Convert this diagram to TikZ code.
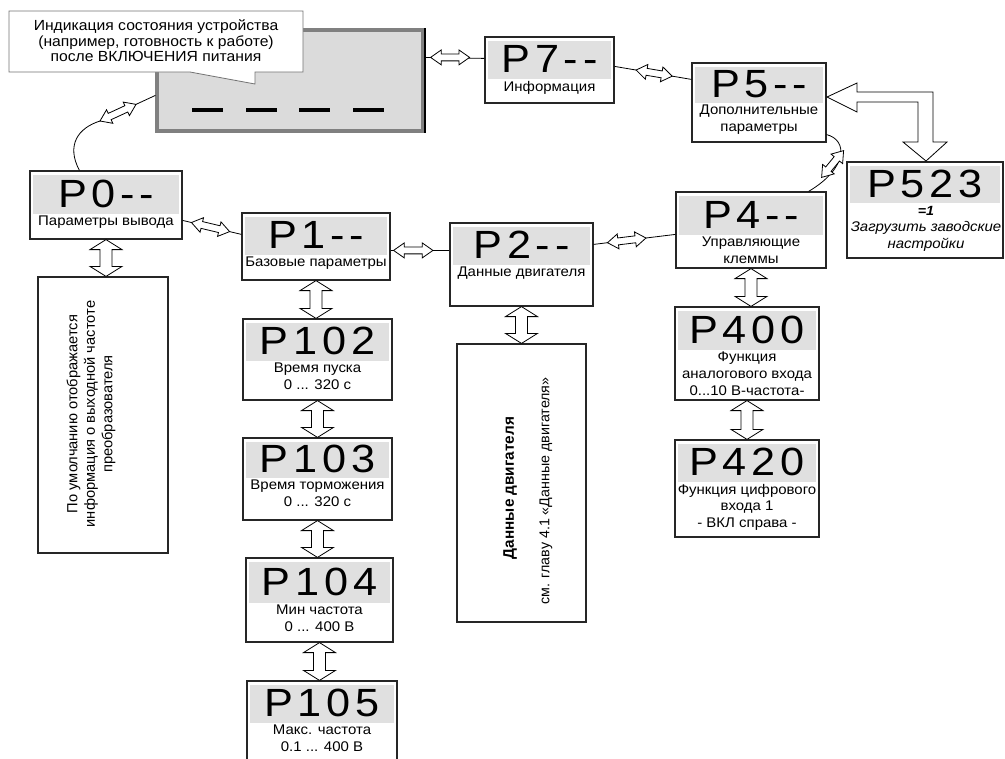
\documentclass[tikz,border=0pt]{standalone}
\usepackage{fontspec}
\setmainfont[FakeStretch=1.07]{Liberation Sans}
\newfontfamily\bigf[FakeStretch=1.1,LetterSpace=12]{Liberation Sans}
\newfontfamily\plainf{Liberation Sans}
\usetikzlibrary{calc}

\tikzset{
  pbox/.style={draw=black!85, line width=0.9pt, fill=white, rectangle, inner sep=0pt},
  band/.style={fill=black!12},
  bigt/.style={font=\bigf\fontsize{29.5}{30}\selectfont, inner sep=0pt},
  smallt/.style={font=\fontsize{10.5}{12.4}\selectfont, align=center, inner sep=0pt},
  arr/.style={draw=black, fill=white, line width=0.6pt, line join=miter},
  conn/.style={draw=black, line width=0.6pt},
  disp/.style={draw=black!50, line width=2.4pt, fill=black!14, rectangle, inner sep=0pt},
  callout/.style={draw=black!55, line width=0.6pt, fill=white},
}

% hollow double arrow between two points: from, to, shaft half, head half, head length (pt)
\newcommand\dblarrow[5]{%
  \path let \p1=#1, \p2=#2 in \pgfextra{%
    \pgfmathsetmacro\tmpang{atan2(\y2-\y1,\x2-\x1)}\xdef\daang{\tmpang}%
    \pgfmathsetmacro\tmplen{veclen(\x2-\x1,\y2-\y1)}\xdef\dalen{\tmplen}%
    \xdef\dax{\x1}\xdef\day{\y1}};
  \begin{scope}[shift={(\dax,\day)},rotate=\daang,x=1pt,y=1pt]
    \filldraw[arr] (0,0) -- (#5,#4) -- (#5,#3) -- ({\dalen-#5},#3) -- ({\dalen-#5},#4)
      -- (\dalen,0) -- ({\dalen-#5},-#4) -- ({\dalen-#5},-#3) -- (#5,-#3) -- (#5,-#4) -- cycle;
  \end{scope}}
\newcommand\sarr[2]{\dblarrow{#1}{#2}{2.6}{5.6}{8}}
\newcommand\varr[2]{\dblarrow{#1}{#2}{4.5}{12}{7.5}}

% parameter box: name, x1, y1, x2, y2, band bottom, big text, small text
\newcommand\pbox[8]{%
  \node[pbox, minimum width={(#4-#2)*0.75pt}, minimum height={(#5-#3)*0.75pt}] (#1) at ({(#2+#4)/2},{(#3+#5)/2}) {};
  \fill[band] ({#2+3},{#3+4}) rectangle ({#4-3},#6);
  \node[bigt] (#1-big) at ({(#2+#4)/2},{(#3+#6)/2+1}) {#7};
  \node[smallt, anchor=north] (#1-txt) at ({(#2+#4)/2},{#6+2}) {#8};
}

\begin{document}
\begin{tikzpicture}[x=0.75pt,y=-0.75pt]
\useasboundingbox (0,0) rectangle (1005,758);

% display
\node[disp, minimum width={266*0.75pt}, minimum height={101*0.75pt}] (D) at (290,80.5) {};
\draw[line width=1.6pt] (D.north east) -- (D.south east);
\foreach \a in {192,246,299,353} \draw[line width=3.2pt] (\a,110) -- (\a+31,110);

% callout
\draw[callout] (9,11) -- (303,11) -- (303,72) -- (255,72) -- (255,84) -- (190,72) -- (9,72) -- cycle;
\node[font=\fontsize{11}{11.6}\selectfont, align=center, inner sep=0pt] (CT) at (156,41)
  {Индикация состояния устройства\\(например, готовность к работе)\\после ВКЛЮЧЕНИЯ питания};

% parameter boxes
\pbox{P7}{485}{37}{614}{103}{79}{P7--}{Информация}
\pbox{P5}{692}{63}{826}{142}{103}{P5--}{Дополнительные\\параметры}
\pbox{P523}{847}{162}{1003}{258}{203}{P523}{}
\node[font=\bfseries\itshape\fontsize{10}{11}\selectfont, inner sep=0pt] (P523a) at (926,211) {=1};
\node[font=\itshape\fontsize{10.5}{12.75}\selectfont, align=center, inner sep=0pt] (P523b) at (926,236.5) {Загрузить заводские\\настройки};
\pbox{P4}{676}{192}{826}{268}{235}{P4--}{Управляющие\\клеммы}
\pbox{P2}{450}{223}{593}{306}{265}{P2--}{Данные двигателя}
\pbox{P1}{242}{213}{390}{280}{255}{P1--}{Базовые параметры}
\pbox{P0}{30}{171}{182}{239}{214}{P0--}{Параметры вывода}
\pbox{P102}{243}{319}{392}{400}{361}{P102}{Время пуска\\0 ... 320 с}
\pbox{P103}{243}{438}{392}{520}{478}{P103}{Время торможения\\0 ... 320 с}
\pbox{P104}{246}{558}{393}{642}{603}{P104}{Мин частота\\0 ... 400 В}
\pbox{P105}{247}{681}{397}{775}{723}{P105}{Макс. частота\\0.1 ... 400 В}
\pbox{P400}{675}{307}{819}{400}{350}{P400}{Функция\\аналогового входа\\0...10 В-частота-}
\pbox{P420}{675}{440}{819}{537}{482}{P420}{Функция цифрового\\входа 1\\- ВКЛ справа -}

% text boxes
\node[pbox, minimum width={130*0.75pt}, minimum height={276*0.75pt}] (LB) at (103,415) {};
\node[rotate=90, font=\plainf\fontsize{11}{13.1}\selectfont, align=center, inner sep=0pt] (LBt) at (91,414)
  {По умолчанию отображается\\информация о выходной частоте\\преобразователя};
\node[pbox, minimum width={129*0.75pt}, minimum height={278*0.75pt}] (MB) at (521.5,483) {};
\node[rotate=90, font=\plainf\bfseries\fontsize{11.5}{13}\selectfont, inner sep=0pt] (MBa) at (510,488) {Данные двигателя};
\node[rotate=90, font=\plainf\fontsize{10.7}{13}\selectfont, inner sep=0pt] (MBb) at (546,491) {см. главу 4.1 «Данные двигателя»};

% connectors
\draw[conn] ($(D.north east)+(0,29)$) coordinate (a1) -- ($(P7.north west)+(0,22)$) coordinate (b1);
\sarr{($(a1)+(6,0)$)}{($(a1)+(45,0)$)}

\draw[conn] ($(P7.north east)+(0,30)$) coordinate (a2) -- ($(P5.north west)+(0,17)$) coordinate (b2);
\sarr{($(a2)!0.28!(b2)$)}{($(a2)!0.75!(b2)$)}

\draw[conn] ($(P5.south east)+(0,-8)$) coordinate (a3) .. controls (848,140) and (848,168) .. ($(P4.north east)+(-18,0)$) coordinate (b3);
\sarr{($(P5.south east)+(17,8)$)}{($(P4.north east)+(-5,-14)$)}

\draw[conn] ($(P2.north east)+(0,22)$) coordinate (a4) -- ($(P4.north west)+(0,43)$) coordinate (b4);
\sarr{($(a4)!0.17!(b4)$)}{($(a4)!0.64!(b4)$)}

\draw[conn] ($(P1.north east)+(0,38)$) coordinate (a5) -- (a5 -| P2.west) coordinate (b5);
\sarr{($(a5)!0.05!(b5)$)}{($(a5)!0.72!(b5)$)}

\draw[conn] ($(P0.north east)+(0,50)$) coordinate (a6) -- ($(P1.north west)+(0,22)$) coordinate (b6);
\sarr{($(a6)!0.15!(b6)$)}{($(a6)!0.8!(b6)$)}

\coordinate (m7) at (100,121);
\draw[conn] ($(P0.north west)+(50,0)$) coordinate (a7) .. controls (66,145) and (78,128) .. (m7) -- ($(D.north west)+(0,67)$) coordinate (b7);
\sarr{(m7)}{($(m7)!0.65!(b7)$)}

% big L arrow between P5 and P523
\filldraw[arr] (827,97) -- (857,83) -- (857,92) -- (933,92) -- (933,142) -- (947,142) -- (926,161)
  -- (903,142) -- (918,142) -- (918,102) -- (857,102) -- (857,112) -- cycle;

% vertical arrows
\varr{(P0.south)}{(P0.south |- LB.north)}
\varr{(P1.south)}{(P1.south |- P102.north)}
\varr{(P102.south)}{(P102.south |- P103.north)}
\varr{(P103.south)}{(P103.south |- P104.north)}
\varr{(P104.south)}{(P104.south |- P105.north)}
\varr{(P2.south)}{(P2.south |- MB.north)}
\varr{(P4.south)}{(P4.south |- P400.north)}
\varr{(P400.south)}{(P400.south |- P420.north)}
\end{tikzpicture}
\end{document}
